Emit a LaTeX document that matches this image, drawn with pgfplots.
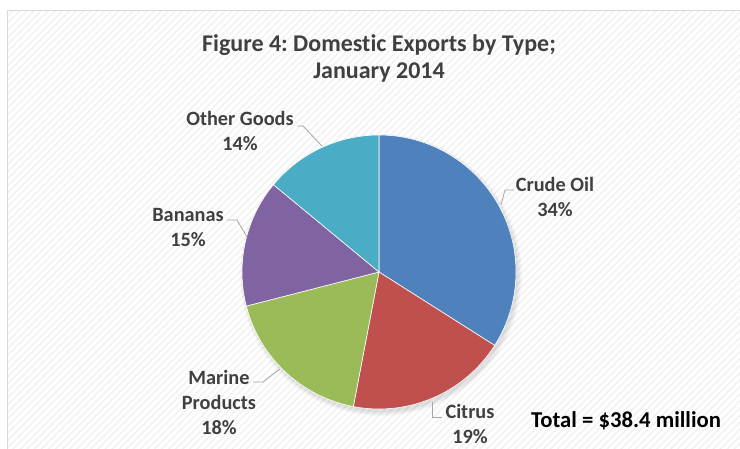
\documentclass[border=0pt]{standalone}
\usepackage{pgfplots}
\pgfplotsset{compat=1.18}
\usepackage{pgfplotstable}
\usepackage{fontspec}
\setmainfont{Carlito}[Ligatures=NoCommon]
\usetikzlibrary{patterns.meta}
\frenchspacing
\definecolor{c1}{HTML}{4F81BD}
\definecolor{c2}{HTML}{C0504D}
\definecolor{c3}{HTML}{9BBB59}
\definecolor{c4}{HTML}{8064A2}
\definecolor{c5}{HTML}{4BACC6}
\definecolor{lbl}{HTML}{404040}
\definecolor{lead}{HTML}{A6A6A6}
\pgfplotstableread{
name value
CrudeOil 34
Citrus 19
Marine 18
Bananas 15
Other 14
}\exports
\begin{document}
\begin{tikzpicture}
\path[use as bounding box] (0,0) rectangle (740pt,448pt);
\begin{axis}[at={(0,0)},anchor=south west,scale only axis,width=740pt,height=448pt,
  xmin=0,xmax=740,ymin=0,ymax=448,hide axis,clip=false]
\addplot[draw=none] coordinates {(0,0)};
\pgfplotsextra{
  \fill[white] (axis cs:0,0) rectangle (axis cs:740,448);
  \fill[pattern={Lines[angle=45,distance=5pt,line width=1.5pt]},pattern color=black!5] (axis cs:7,-20) rectangle (axis cs:760,437);
  \draw[black!15,line width=1pt] (axis cs:7,-20) rectangle (axis cs:760,437);
  \foreach \k in {1,...,5}{
    \fill[black,opacity=0.025] (axis cs:381,173) circle[radius=136pt+\k pt];
  }
  \gdef\curang{90}
  \foreach \i/\col in {0/c1,1/c2,2/c3,3/c4,4/c5}{
    \pgfplotstablegetelem{\i}{value}\of\exports
    \pgfmathsetmacro\endang{\curang-3.6*\pgfplotsretval}
    \fill[\col,draw=white,line width=0.6pt] (axis cs:379,176) -- ++(\curang:137pt) arc[start angle=\curang,end angle=\endang,radius=137pt] -- cycle;
    \xdef\curang{\endang}
  }
  \draw[lead,line width=0.8pt] (axis cs:297,322) -- (axis cs:303,322) -- (axis cs:322,302);
  \draw[lead,line width=0.8pt] (axis cs:514,258) -- (axis cs:505,258) -- (axis cs:501,243);
  \draw[lead,line width=0.8pt] (axis cs:227,228) -- (axis cs:237,228) -- (axis cs:247,211);
  \draw[lead,line width=0.8pt] (axis cs:253,66) -- (axis cs:263,66) -- (axis cs:280,79);
  \draw[lead,line width=0.8pt] (axis cs:432,46) -- (axis cs:432,31) -- (axis cs:442,31);
  \node[lbl,align=center,font=\bfseries\fontsize{24}{27}\selectfont] at (axis cs:379,390) {Figure 4: Domestic Exports by Type;\\January 2014};
  \node[lbl,align=center,font=\bfseries\fontsize{20.3}{25}\selectfont] at (axis cs:240,317) {Other Goods\\14\%};
  \node[lbl,align=center,font=\bfseries\fontsize{20.3}{25}\selectfont] at (axis cs:555,251.5) {Crude Oil\\34\%};
  \node[lbl,align=center,font=\bfseries\fontsize{20.3}{25}\selectfont] at (axis cs:188,220.5) {Bananas\\15\%};
  \node[lbl,align=center,font=\bfseries\fontsize{20.3}{25}\selectfont] at (axis cs:219,46) {Marine\\Products\\18\%};
  \node[lbl,align=center,font=\bfseries\fontsize{20.3}{25}\selectfont] at (axis cs:470,24.5) {Citrus\\19\%};
  \node[black,font=\bfseries\fontsize{22.7}{25}\selectfont] at (axis cs:626,27) {Total = \$38.4 million};
}
\end{axis}
\end{tikzpicture}
\end{document}
